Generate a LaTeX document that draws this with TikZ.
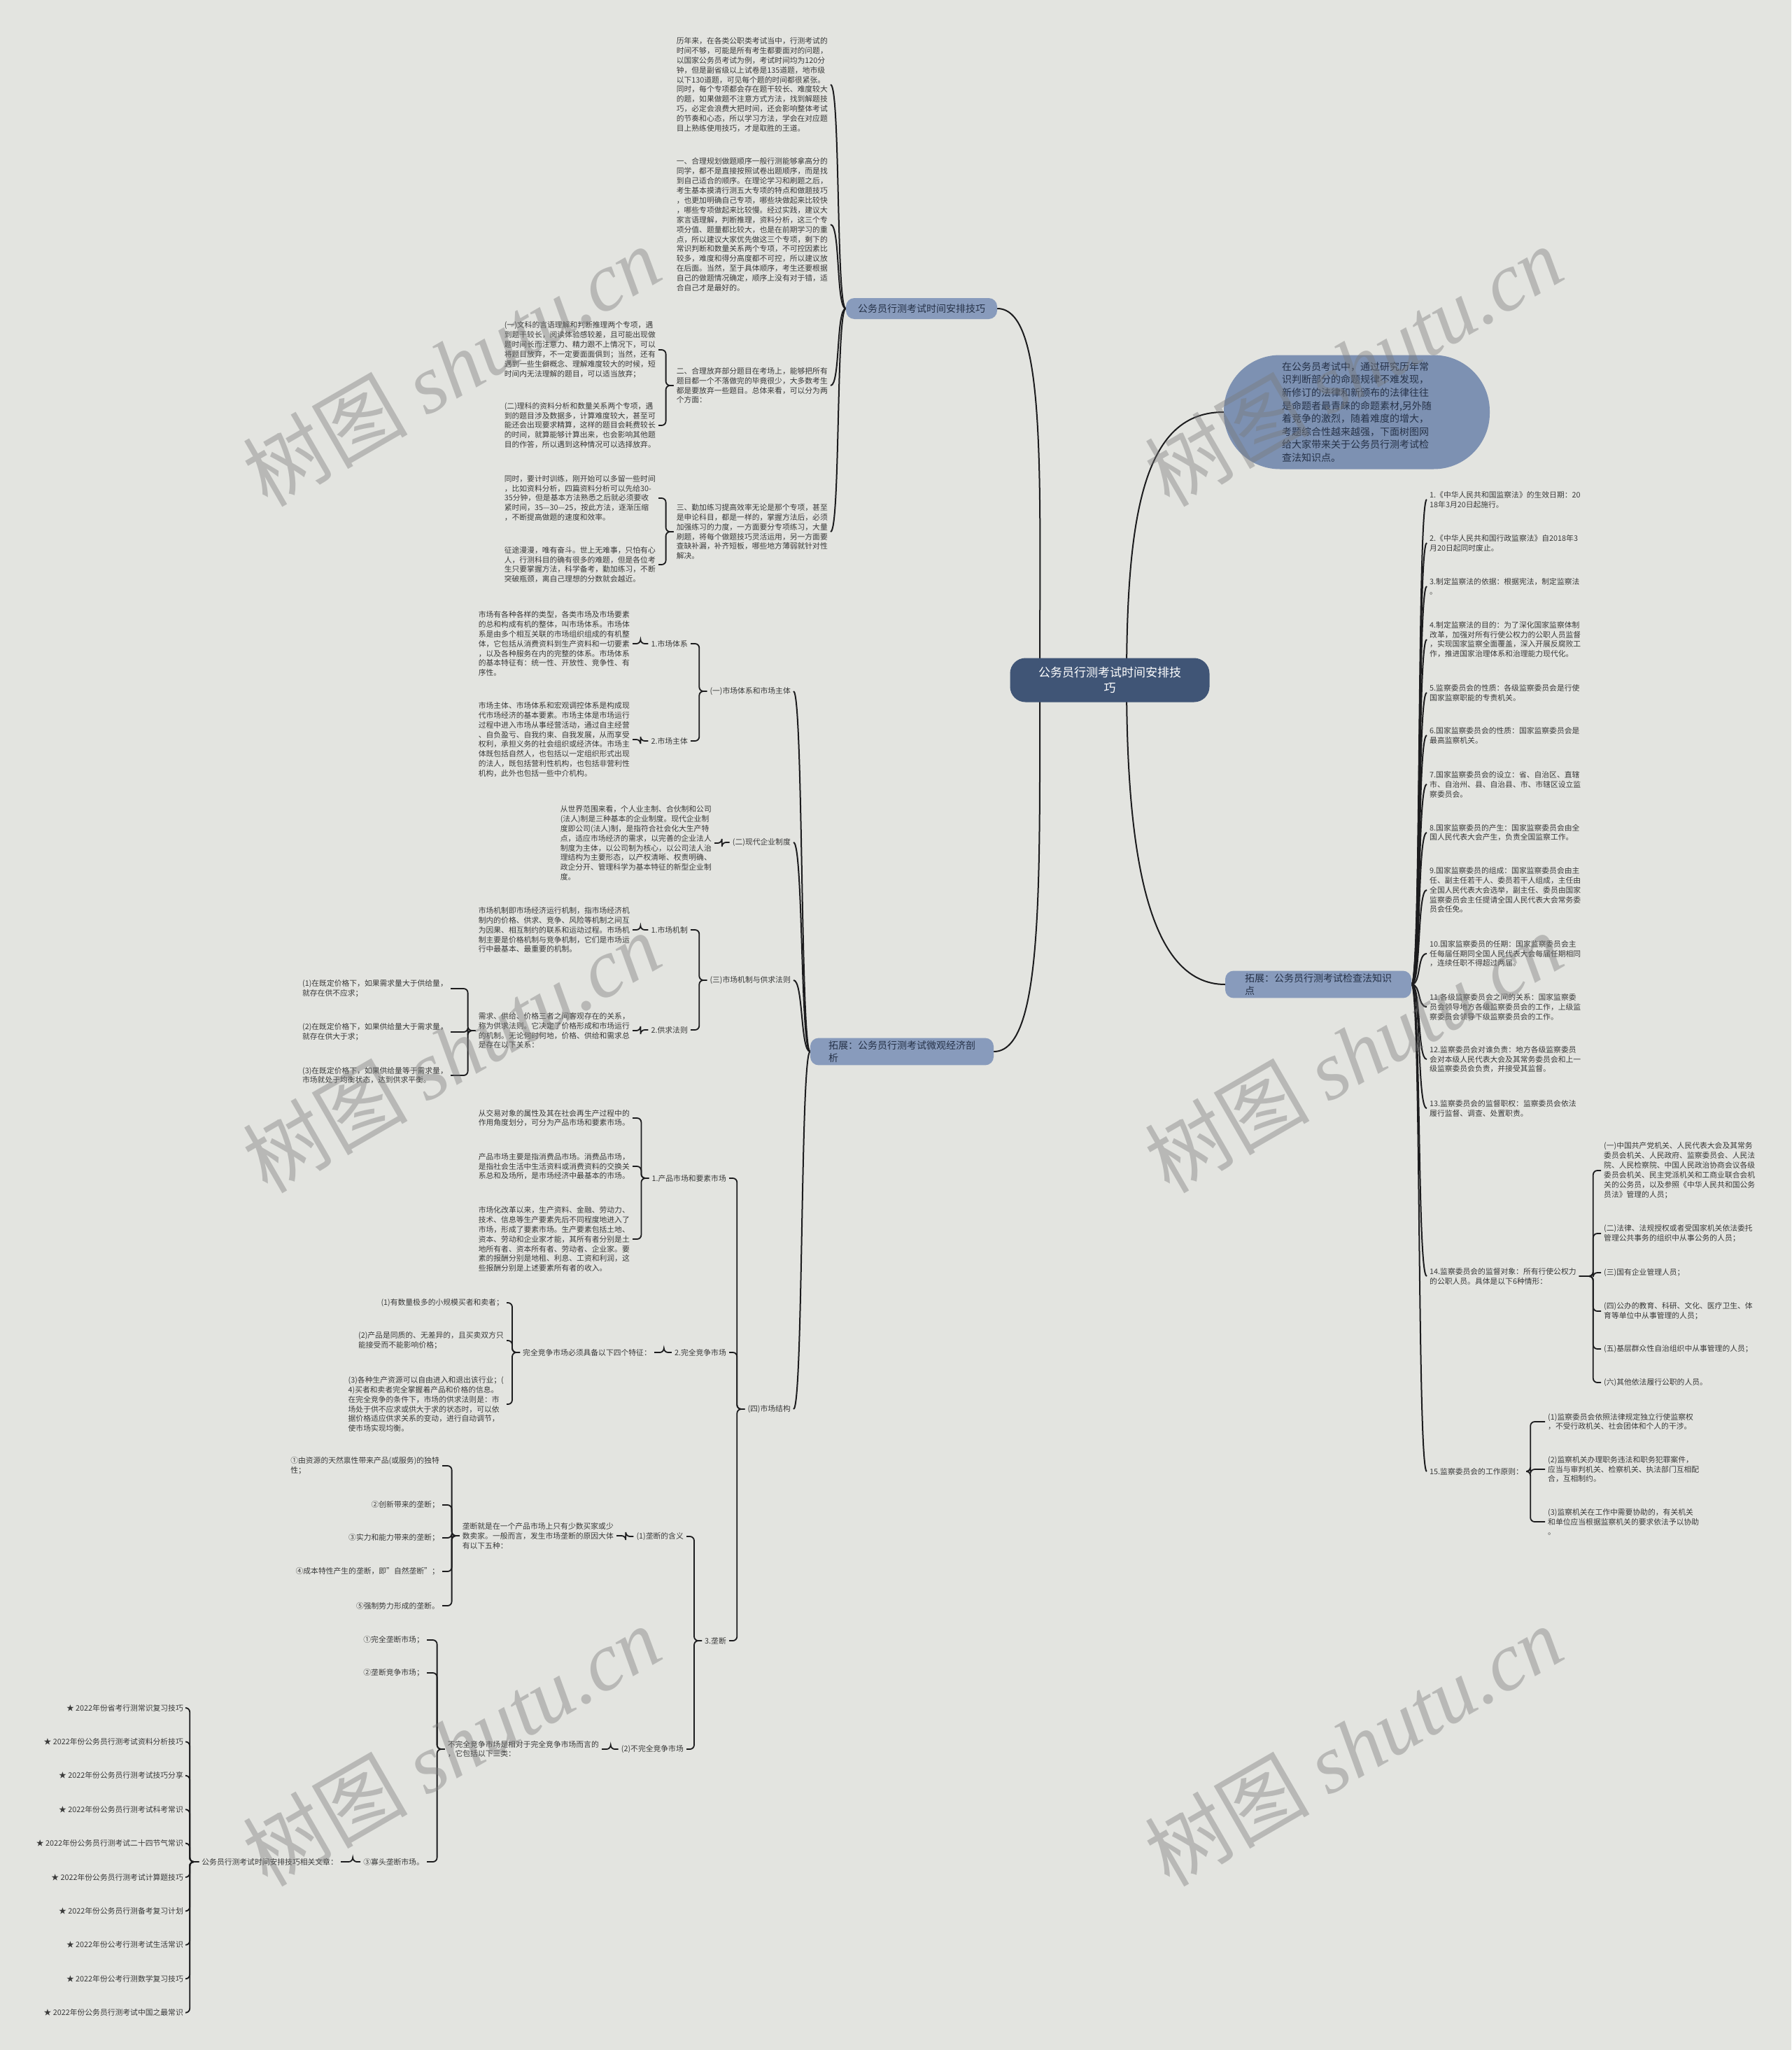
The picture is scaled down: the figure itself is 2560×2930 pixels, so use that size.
\documentclass[tikz,border=0pt]{standalone}
\usepackage{fontspec}
\setmainfont{Noto Sans CJK SC}
\newfontfamily\wmfont{Liberation Serif}
\usepackage{tikz}
\usetikzlibrary{backgrounds}

\definecolor{bgcol}{RGB}{227,228,224}
\definecolor{rootcol}{RGB}{64,85,118}
\definecolor{branchcol}{RGB}{136,155,188}
\definecolor{introcol}{RGB}{125,145,178}
\definecolor{branchtxt}{RGB}{38,50,72}
\definecolor{txtcol}{RGB}{58,58,58}
\definecolor{linecol}{RGB}{28,28,30}
\definecolor{wmcol}{RGB}{120,120,120}

\begin{document}
\begin{tikzpicture}[x=1pt, y=-1pt,
  txt/.style={font=\fontsize{10.8}{13.9}\selectfont, text=txtcol, align=left, inner xsep=4pt, inner ysep=2pt},
  lft/.style={txt, anchor=east},
  rgt/.style={txt, anchor=west},
  root/.style={fill=rootcol, text=white, font=\fontsize{17}{22}\selectfont, align=center,
    rounded corners=22pt, minimum width=285pt, minimum height=63pt},
  branch/.style={fill=branchcol, text=branchtxt, font=\fontsize{14}{18}\selectfont, align=left,
    rounded corners=12pt, minimum height=30pt, inner ysep=4pt},
  intro/.style={fill=introcol, text=branchtxt, font=\fontsize{14}{18.6}\selectfont, align=left,
    rounded corners=80pt, minimum width=380pt, minimum height=163pt},
  link/.style={draw=linecol, line width=2pt},
  bracket/.style={draw=linecol, line width=1.8pt, rounded corners=6pt},
  wmark/.style={text=wmcol, opacity=0.4, font=\fontsize{118}{118}\selectfont, rotate=30}]

\useasboundingbox (0,0) rectangle (2560,2930);

% Root and main branches
\node[root] (root) at (1586,972) {公务员行测考试时间安排技\\巧};
\node[branch, inner xsep=17pt] (A) at (1317,441) {公务员行测考试时间安排技巧};
\node[branch, inner xsep=26pt] (B) at (1289,1503) {拓展：公务员行测考试微观经济剖\\析};
\node[branch, inner xsep=28pt] (R) at (1884,1407) {拓展：公务员行测考试检查法知识\\点};
\node[intro] (intro) at (1939,589) {在公务员考试中，通过研究历年常\\识判断部分的命题规律不难发现，\\新修订的法律和新颁布的法律往往\\是命题者最青睐的命题素材,另外随\\着竞争的激烈，随着难度的增大，\\考题综合性越来越强，下面树图网\\给大家带来关于公务员行测考试检\\查法知识点。};

% Exam time tips
\node[lft] (P1) at (1187,121) {历年来，在各类公职类考试当中，行测考试的\\时间不够，可能是所有考生都要面对的问题，\\以国家公务员考试为例，考试时间均为120分\\钟，但是副省级以上试卷是135道题，地市级\\以下130道题，可见每个题的时间都很紧张。\\同时，每个专项都会存在题干较长、难度较大\\的题，如果做题不注意方式方法，找到解题技\\巧，必定会浪费大把时间，还会影响整体考试\\的节奏和心态，所以学习方法，学会在对应题\\目上熟练使用技巧，才是取胜的王道。};
\node[lft] (P2) at (1187,321) {一、合理规划做题顺序一般行测能够拿高分的\\同学，都不是直接按照试卷出题顺序，而是找\\到自己适合的顺序。在理论学习和刷题之后，\\考生基本摸清行测五大专项的特点和做题技巧\\，也更加明确自己专项，哪些块做起来比较快\\，哪些专项做起来比较慢。经过实践，建议大\\家言语理解，判断推理，资料分析，这三个专\\项分值、题量都比较大，也是在前期学习的重\\点，所以建议大家优先做这三个专项，剩下的\\常识判断和数量关系两个专项，不可控因素比\\较多，难度和得分高度都不可控，所以建议放\\在后面。当然，至于具体顺序，考生还要根据\\自己的做题情况确定，顺序上没有对于错，适\\合自己才是最好的。};
\node[lft] (P3) at (1187,551) {二、合理放弃部分题目在考场上，能够把所有\\题目都一个不落做完的毕竟很少，大多数考生\\都是要放弃一些题目。总体来看，可以分为两\\个方面：};
\node[lft] (P3a) at (941,500) {(一)文科的言语理解和判断推理两个专项，遇\\到题干较长，阅读体验感较差，且可能出现做\\题时间长而注意力、精力跟不上情况下，可以\\将题目放弃，不一定要面面俱到；当然，还有\\遇到一些生僻概念、理解难度较大的时候，短\\时间内无法理解的题目，可以适当放弃；};
\node[lft] (P3b) at (941,608) {(二)理科的资料分析和数量关系两个专项，遇\\到的题目涉及数据多，计算难度较大，甚至可\\能还会出现要求精算，这样的题目会耗费较长\\的时间，就算能够计算出来，也会影响其他题\\目的作答，所以遇到这种情况可以选择放弃。};
\node[lft] (P4) at (1187,760) {三、勤加练习提高效率无论是那个专项，甚至\\是申论科目，都是一样的，掌握方法后，必须\\加强练习的力度，一方面要分专项练习，大量\\刷题，将每个做题技巧灵活运用，另一方面要\\查缺补漏，补齐短板，哪些地方薄弱就针对性\\解决。};
\node[lft] (P4a) at (941,712) {同时，要计时训练，刚开始可以多留一些时间\\，比如资料分析，四篇资料分析可以先给30-\\35分钟，但是基本方法熟悉之后就必须要收\\紧时间，35—30—25，按此方法，逐渐压缩\\，不断提高做题的速度和效率。};
\node[lft] (P4b) at (941,807) {征途漫漫，唯有奋斗。世上无难事，只怕有心\\人，行测科目的确有很多的难题，但是各位考\\生只要掌握方法，科学备考，勤加练习，不断\\突破瓶颈，离自己理想的分数就会越近。};

% Micro economics
\node[lft] (m1) at (1134,988) {(一)市场体系和市场主体};
\node[lft] (m1a) at (987,920) {1.市场体系};
\node[lft] (m1b) at (987,1059) {2.市场主体};
\node[lft] (m1at) at (904,920) {市场有各种各样的类型，各类市场及市场要素\\的总和构成有机的整体，叫市场体系。市场体\\系是由多个相互关联的市场组织组成的有机整\\体，它包括从消费资料到生产资料和一切要素\\，以及各种服务在内的完整的体系。市场体系\\的基本特征有：统一性、开放性、竞争性、有\\序性。};
\node[lft] (m1bt) at (904,1057) {市场主体、市场体系和宏观调控体系是构成现\\代市场经济的基本要素。市场主体是市场运行\\过程中进入市场从事经营活动，通过自主经营\\、自负盈亏、自我约束、自我发展，从而享受\\权利，承担义务的社会组织或经济体。市场主\\体既包括自然人，也包括以一定组织形式出现\\的法人，既包括营利性机构，也包括非营利性\\机构，此外也包括一些中介机构。};
\node[lft] (m2) at (1134,1204) {(二)现代企业制度};
\node[lft] (m2t) at (1021,1205) {从世界范围来看，个人业主制、合伙制和公司\\(法人)制是三种基本的企业制度。现代企业制\\度即公司(法人)制，是指符合社会化大生产特\\点，适应市场经济的需求，以完善的企业法人\\制度为主体，以公司制为核心，以公司法人治\\理结构为主要形态，以产权清晰、权责明确、\\政企分开、管理科学为基本特征的新型企业制\\度。};
\node[lft] (m3) at (1134,1401) {(三)市场机制与供求法则};
\node[lft] (m3a) at (987,1329) {1.市场机制};
\node[lft] (m3b) at (987,1472) {2.供求法则};
\node[lft] (m3at) at (904,1329) {市场机制即市场经济运行机制，指市场经济机\\制内的价格、供求、竞争、风险等机制之间互\\为因果、相互制约的联系和运动过程。市场机\\制主要是价格机制与竞争机制，它们是市场运\\行中最基本、最重要的机制。};
\node[lft] (m3bt) at (904,1473) {需求、供给、价格三者之间客观存在的关系，\\称为供求法则。它决定了价格形成和市场运行\\的机制。无论何时何地，价格、供给和需求总\\是存在以下关系：};
\node[lft] (sd1) at (644,1413) {(1)在既定价格下，如果需求量大于供给量，\\就存在供不应求；};
\node[lft] (sd2) at (644,1475) {(2)在既定价格下，如果供给量大于需求量，\\就存在供大于求；};
\node[lft] (sd3) at (644,1537) {(3)在既定价格下，如果供给量等于需求量，\\市场就处于均衡状态，达到供求平衡。};
\node[lft] (m4) at (1134,2014) {(四)市场结构};
\node[lft] (pm) at (1042,1684) {1.产品市场和要素市场};
\node[lft] (pm1) at (904,1598) {从交易对象的属性及其在社会再生产过程中的\\作用角度划分，可分为产品市场和要素市场。};
\node[lft] (pm2) at (904,1667) {产品市场主要是指消费品市场。消费品市场，\\是指社会生活中生活资料或消费资料的交换关\\系总和及场所，是市场经济中最基本的市场。};
\node[lft] (pm3) at (904,1771) {市场化改革以来，生产资料、金融、劳动力、\\技术、信息等生产要素先后不同程度地进入了\\市场，形成了要素市场。生产要素包括土地、\\资本、劳动和企业家才能，其所有者分别是土\\地所有者、资本所有者、劳动者、企业家。要\\素的报酬分别是地租、利息、工资和利润，这\\些报酬分别是上述要素所有者的收入。};
\node[lft] (cm) at (1042,1933) {2.完全竞争市场};
\node[lft] (cmt) at (935,1933) {完全竞争市场必须具备以下四个特征：};
\node[lft] (cc1) at (724,1862) {(1)有数量极多的小规模买者和卖者；};
\node[lft] (cc2) at (724,1916) {(2)产品是同质的、无差异的，且买卖双方只\\能接受而不能影响价格；};
\node[lft] (cc3) at (724,2007) {(3)各种生产资源可以自由进入和退出该行业；(\\4)买者和卖者完全掌握着产品和价格的信息。\\在完全竞争的条件下，市场的供求法则是：市\\场处于供不应求或供大于求的状态时，可以依\\据价格适应供求关系的变动，进行自动调节，\\使市场实现均衡。};
\node[lft] (mo) at (1042,2345) {3.垄断};
\node[lft] (mo1) at (981,2196) {(1)垄断的含义};
\node[lft] (mo1t) at (881,2195) {垄断就是在一个产品市场上只有少数买家或少\\数卖家。一般而言，发生市场垄断的原因大体\\有以下五种：};
\node[lft] (r1) at (632,2095) {①由资源的天然禀性带来产品(或服务)的独特\\性；};
\node[lft] (r2) at (632,2151) {②创新带来的垄断；};
\node[lft] (r3) at (632,2198) {③实力和能力带来的垄断；};
\node[lft] (r4) at (632,2246) {④成本特性产生的垄断，即"自然垄断"；};
\node[lft] (r5) at (632,2295) {⑤强制势力形成的垄断。};
\node[lft] (mo2) at (981,2500) {(2)不完全竞争市场};
\node[lft] (mo2t) at (860,2500) {不完全竞争市场是相对于完全竞争市场而言的\\，它包括以下三类：};
\node[lft] (i1) at (610,2344) {①完全垄断市场；};
\node[lft] (i2) at (610,2391) {②垄断竞争市场；};
\node[lft] (i3) at (610,2661) {③寡头垄断市场。};
\node[lft] (rel) at (487,2661) {公务员行测考试时间安排技巧相关文章：};
\foreach \t [count=\k from 0] in {★ 2022年份省考行测常识复习技巧, ★ 2022年份公务员行测考试资料分析技巧,
    ★ 2022年份公务员行测考试技巧分享, ★ 2022年份公务员行测考试科考常识,
    ★ 2022年份公务员行测考试二十四节气常识, ★ 2022年份公务员行测考试计算题技巧,
    ★ 2022年份公务员行测备考复习计划, ★ 2022年份公考行测考试生活常识,
    ★ 2022年份公考行测数学复习技巧, ★ 2022年份公务员行测考试中国之最常识}
  \node[lft] (rel\k) at (266,{2441+48.4*\k}) {\t};

% Supervision law
\node[rgt] (it1) at (2039,714) {1.《中华人民共和国监察法》的生效日期：20\\18年3月20日起施行。};
\node[rgt] (it2) at (2039,776) {2.《中华人民共和国行政监察法》自2018年3\\月20日起同时废止。};
\node[rgt] (it3) at (2039,838) {3.制定监察法的依据：根据宪法，制定监察法\\。};
\node[rgt] (it4) at (2039,914) {4.制定监察法的目的：为了深化国家监察体制\\改革，加强对所有行使公权力的公职人员监督\\，实现国家监察全面覆盖，深入开展反腐败工\\作，推进国家治理体系和治理能力现代化。};
\node[rgt] (it5) at (2039,990) {5.监察委员会的性质：各级监察委员会是行使\\国家监察职能的专责机关。};
\node[rgt] (it6) at (2039,1051) {6.国家监察委员会的性质：国家监察委员会是\\最高监察机关。};
\node[rgt] (it7) at (2039,1121) {7.国家监察委员会的设立：省、自治区、直辖\\市、自治州、县、自治县、市、市辖区设立监\\察委员会。};
\node[rgt] (it8) at (2039,1190) {8.国家监察委员的产生：国家监察委员会由全\\国人民代表大会产生，负责全国监察工作。};
\node[rgt] (it9) at (2039,1272) {9.国家监察委员的组成：国家监察委员会由主\\任、副主任若干人、委员若干人组成，主任由\\全国人民代表大会选举，副主任、委员由国家\\监察委员会主任提请全国人民代表大会常务委\\员会任免。};
\node[rgt] (it10) at (2039,1363) {10.国家监察委员的任期：国家监察委员会主\\任每届任期同全国人民代表大会每届任期相同\\，连续任职不得超过两届。};
\node[rgt] (it11) at (2039,1439) {11.各级监察委员会之间的关系：国家监察委\\员会领导地方各级监察委员会的工作，上级监\\察委员会领导下级监察委员会的工作。};
\node[rgt] (it12) at (2039,1514) {12.监察委员会对谁负责：地方各级监察委员\\会对本级人民代表大会及其常务委员会和上一\\级监察委员会负责，并接受其监督。};
\node[rgt] (it13) at (2039,1584) {13.监察委员会的监督职权：监察委员会依法\\履行监督、调查、处置职责。};
\node[rgt] (it14) at (2039,1824) {14.监察委员会的监督对象：所有行使公权力\\的公职人员。具体是以下6种情形：};
\node[rgt] (ob1) at (2288,1673) {(一)中国共产党机关、人民代表大会及其常务\\委员会机关、人民政府、监察委员会、人民法\\院、人民检察院、中国人民政治协商会议各级\\委员会机关、民主党派机关和工商业联合会机\\关的公务员，以及参照《中华人民共和国公务\\员法》管理的人员；};
\node[rgt] (ob2) at (2288,1763) {(二)法律、法规授权或者受国家机关依法委托\\管理公共事务的组织中从事公务的人员；};
\node[rgt] (ob3) at (2288,1819) {(三)国有企业管理人员；};
\node[rgt] (ob4) at (2288,1874) {(四)公办的教育、科研、文化、医疗卫生、体\\育等单位中从事管理的人员；};
\node[rgt] (ob5) at (2288,1928) {(五)基层群众性自治组织中从事管理的人员；};
\node[rgt] (ob6) at (2288,1976) {(六)其他依法履行公职的人员。};
\node[rgt] (it15) at (2039,2103) {15.监察委员会的工作原则：};
\node[rgt] (pr1) at (2208,2032) {(1)监察委员会依照法律规定独立行使监察权\\，不受行政机关、社会团体和个人的干涉。};
\node[rgt] (pr2) at (2208,2100) {(2)监察机关办理职务违法和职务犯罪案件，\\应当与审判机关、检察机关、执法部门互相配\\合，互相制约。};
\node[rgt] (pr3) at (2208,2175) {(3)监察机关在工作中需要协助的，有关机关\\和单位应当根据监察机关的要求依法予以协助\\。};

% Connectors
\begin{scope}[on background layer]
  \fill[bgcol] (0,0) rectangle (2560,2930);
  \draw[link] ([xshift=-100pt]root.center) .. controls +(0,-300) and +(70,0) .. (A.east);
  \draw[link] ([xshift=-100pt]root.center) .. controls +(0,300) and +(70,0) .. (B.east);
  \draw[link] ([xshift=24pt]root.center) .. controls +(0,-250) and +(-110,0) .. (intro.west);
  \draw[link] ([xshift=24pt]root.center) .. controls +(0,250) and +(-110,0) .. (R.west);
  \foreach \c in {P1,P2,P3,P4}
    \draw[link] (A.west) .. controls +(-14,0) and +(14,0) .. (\c.east);
  \foreach \c in {m1,m2,m3,m4}
    \draw[link] (B.west) .. controls +(-14,0) and +(14,0) .. (\c.east);
  \foreach \i in {1,...,15}
    \draw[link] (R.east) .. controls +(14,0) and +(-14,0) .. (it\i.west);
  % brackets
  \foreach \p/\c in {P3/P3a, P3/P3b, P4/P4a, P4/P4b, m1/m1a, m1/m1b, m1a/m1at, m1b/m1bt,
      m2/m2t, m3/m3a, m3/m3b, m3a/m3at, m3b/m3bt, m3bt/sd1, m3bt/sd2, m3bt/sd3,
      m4/pm, m4/cm, m4/mo, pm/pm1, pm/pm2, pm/pm3, cm/cmt, cmt/cc1, cmt/cc2, cmt/cc3,
      mo/mo1, mo/mo2, mo1/mo1t, mo1t/r1, mo1t/r2, mo1t/r3, mo1t/r4, mo1t/r5,
      mo2/mo2t, mo2t/i1, mo2t/i2, mo2t/i3, i3/rel}
    \draw[bracket] (\p.west) -- ++(-11,0) |- (\c.east);
  \foreach \k in {0,...,9}
    \draw[bracket] (rel.west) -- ++(-13,0) |- (rel\k.east);
  \foreach \k in {1,...,6}
    \draw[bracket] (it14.east) -- ++(20,0) |- (ob\k.west);
  \foreach \k in {1,2,3}
    \draw[bracket] (it15.east) -- ++(6,0) |- (pr\k.west);
\end{scope}

% Watermarks
\foreach \wx/\wy in {645/523, 1934/523, 645/1504, 1934/1504, 645/2495, 1934/2495}
  \node[wmark] at (\wx,\wy) {树图 {\wmfont\itshape shutu.cn}};

\end{tikzpicture}
\end{document}
